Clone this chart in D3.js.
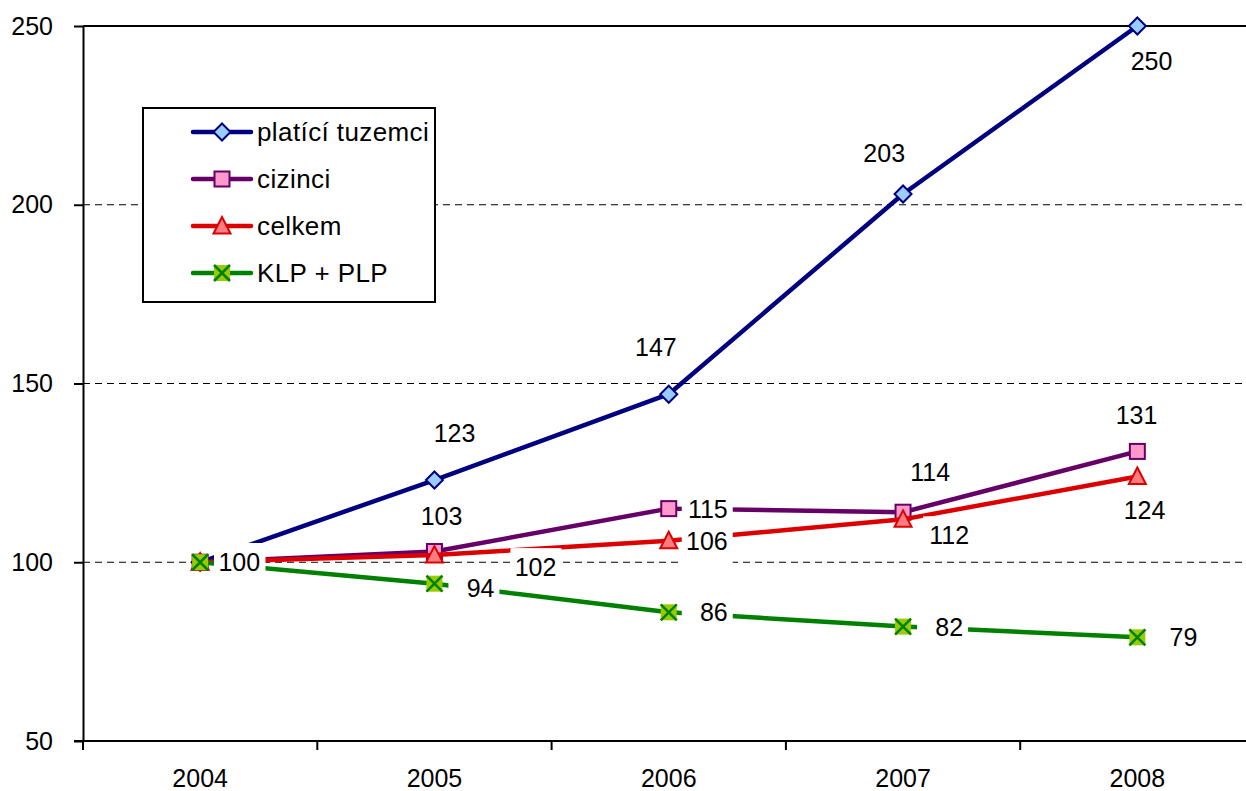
<!DOCTYPE html>
<html>
<head>
<meta charset="utf-8">
<script src="https://cdn.jsdelivr.net/npm/d3@7"></script>
<style>
  body { margin: 0; background: #fff; }
  text { font-family: "Liberation Sans", Arial, sans-serif; }
</style>
</head>
<body>
<svg id="chart"></svg>
<script>
// data
const years = ['2004', '2005', '2006', '2007', '2008'];
const seriesNames = ['platící tuzemci', 'cizinci', 'celkem', 'KLP + PLP'];
const platiciTuzemci = [100, 123, 147, 203, 250];
const cizinci = [100, 103, 115, 114, 131];
const celkem = [100, 102, 106, 112, 124];
const klpPlp = [100, 94, 86, 82, 79];
const yTicks = [50, 100, 150, 200, 250];

// where Excel put each data label (text right edge / centre offset from the point)
const labelOffsets = [
    [[60, 0], [41, -47], [8, -47], [2, -41], [35, 35]],
    [[60, 0], [28, -36], [59, 0], [47, -40], [20, -36]],
    [[60, 0], [122, 12], [59, 0], [66, 16], [28, 34]],
    [[60, 0], [60, 4], [59, 0], [60, 0], [60, 0]]
];

const styles = [
    {line: '#000080', fill: '#99ccff', marker: 'diamond'},
    {line: '#660066', fill: '#ff99cc', marker: 'square'},
    {line: '#dd0000', fill: '#ff7c80', marker: 'triangle'},
    {line: '#008000', fill: '#99cc00', marker: 'xsquare'}
];

const seriesValues = [platiciTuzemci, cizinci, celkem, klpPlp];

const W = 1246, H = 791;
const margin = {top: 26, left: 83, bottom: 50};
const plotRight = 83 + 5 * 234.3;

const svg = d3.select('#chart').attr('width', W).attr('height', H);

const xScale = d3.scaleBand()
    .domain(years)
    .range([margin.left, plotRight])
    .padding(0);
const xc = d => xScale(d) + xScale.bandwidth() / 2;

const yScale = d3.scaleLinear()
    .domain([50, 250])
    .range([H - margin.bottom, margin.top]);

// gridlines
svg.append('g')
    .selectAll('line')
    .data(yTicks.slice(1))
    .enter()
    .append('line')
    .attr('x1', margin.left)
    .attr('x2', W)
    .attr('y1', d => yScale(d))
    .attr('y2', d => yScale(d))
    .attr('stroke', '#000')
    .attr('stroke-width', d => d === 250 ? 2 : 1)
    .attr('stroke-dasharray', d => d === 250 ? null : '7,5');

// y axis
const yAxis = svg.append('g')
    .attr('transform', `translate(${margin.left},0)`)
    .call(d3.axisLeft(yScale).tickValues(yTicks).tickSize(9).tickSizeOuter(0).tickPadding(21));
yAxis.select('.domain').attr('stroke-width', 2);
yAxis.selectAll('.tick line').attr('stroke-width', 2);
yAxis.selectAll('text').style('font-size', '25px').attr('fill', '#000');

// x axis
const xBase = yScale(50);
svg.append('line')
    .attr('x1', margin.left - 9).attr('x2', W)
    .attr('y1', xBase).attr('y2', xBase)
    .attr('stroke', '#000').attr('stroke-width', 2);
svg.append('g')
    .selectAll('line')
    .data(years)
    .enter()
    .append('line')
    .attr('x1', d => xScale(d)).attr('x2', d => xScale(d))
    .attr('y1', xBase).attr('y2', xBase + 9)
    .attr('stroke', '#000').attr('stroke-width', 2);
svg.append('g')
    .selectAll('text')
    .data(years)
    .enter()
    .append('text')
    .attr('x', d => xc(d))
    .attr('y', xBase + 37)
    .attr('dy', '0.36em')
    .attr('text-anchor', 'middle')
    .style('font-size', '25px')
    .text(d => d);

function drawMarker(g, type, s, x, y) {
    if (type === 'diamond') {
        g.append('path')
            .attr('d', `M${x},${y - 8.5}L${x + 8.5},${y}L${x},${y + 8.5}L${x - 8.5},${y}Z`)
            .attr('fill', s.fill).attr('stroke', s.line).attr('stroke-width', 2);
    } else if (type === 'square') {
        g.append('rect')
            .attr('x', x - 7.5).attr('y', y - 7.5).attr('width', 15).attr('height', 15)
            .attr('fill', s.fill).attr('stroke', s.line).attr('stroke-width', 2);
    } else if (type === 'triangle') {
        g.append('path')
            .attr('d', `M${x},${y - 9}L${x + 8.5},${y + 7.5}L${x - 8.5},${y + 7.5}Z`)
            .attr('fill', s.fill).attr('stroke', s.line).attr('stroke-width', 2);
    } else {
        g.append('rect')
            .attr('x', x - 8).attr('y', y - 8).attr('width', 16).attr('height', 16)
            .attr('fill', s.fill);
        g.append('path')
            .attr('d', `M${x - 8},${y - 8}L${x + 8},${y + 8}M${x + 8},${y - 8}L${x - 8},${y + 8}`)
            .attr('stroke', s.line).attr('stroke-width', 2.5);
    }
}

const line = d3.line()
    .x((d, i) => xc(years[i]))
    .y(d => yScale(d));

// series lines + markers
seriesValues.forEach((vals, si) => {
    const s = styles[si];
    const g = svg.append('g');
    g.append('path')
        .datum(vals)
        .attr('d', line)
        .attr('fill', 'none')
        .attr('stroke', s.line)
        .attr('stroke-width', 4.5)
        .attr('stroke-linejoin', 'round');
    vals.forEach((v, i) => drawMarker(g, s.marker, s, xc(years[i]), yScale(v)));
});

// data labels with white boxes
seriesValues.forEach((vals, si) => {
    const g = svg.append('g');
    vals.forEach((v, i) => {
        const [dx, dy] = labelOffsets[si][i];
        const right = xc(years[i]) + dx;
        const cy = yScale(v) + dy;
        g.append('rect')
            .attr('x', right - 46).attr('y', cy - 19)
            .attr('width', 51).attr('height', 43)
            .attr('fill', '#fff');
        g.append('text')
            .attr('x', right).attr('y', cy)
            .attr('dy', '0.36em')
            .attr('text-anchor', 'end')
            .style('font-size', '25px')
            .text(v);
    });
});

// legend
const legend = svg.append('g');
legend.append('rect')
    .attr('x', 143).attr('y', 108)
    .attr('width', 292).attr('height', 194)
    .attr('fill', '#fff').attr('stroke', '#000').attr('stroke-width', 2);
seriesNames.forEach((name, i) => {
    const s = styles[i];
    const ly = 132 + i * 47;
    legend.append('line')
        .attr('x1', 193).attr('x2', 251)
        .attr('y1', ly).attr('y2', ly)
        .attr('stroke', s.line).attr('stroke-width', 4.5)
        .attr('stroke-linecap', 'round');
    drawMarker(legend, s.marker, s, 222, ly);
    legend.append('text')
        .attr('x', 257).attr('y', ly)
        .attr('dy', '0.36em')
        .style('font-size', '26px')
        .style('letter-spacing', '0.4px')
        .text(name);
});
</script>
</body>
</html>
